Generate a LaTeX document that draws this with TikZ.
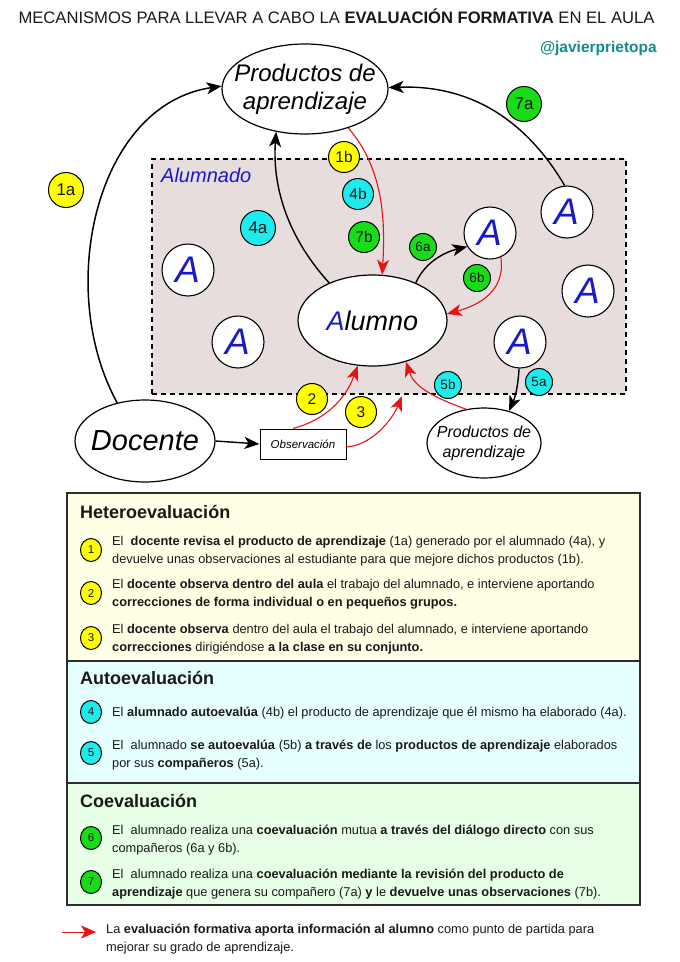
\documentclass[tikz,border=0pt]{standalone}
\usepackage{fontspec}
\setmainfont{Liberation Sans}
\usetikzlibrary{arrows.meta,shapes.geometric}
\definecolor{pinkbg}{RGB}{231,221,221}
\definecolor{yelbox}{RGB}{255,255,230}
\definecolor{cyabox}{RGB}{230,255,255}
\definecolor{grebox}{RGB}{230,255,230}
\definecolor{byellow}{RGB}{255,255,0}
\definecolor{bcyan}{RGB}{30,235,235}
\definecolor{bgreen}{RGB}{25,220,25}
\definecolor{ablue}{RGB}{25,25,200}
\definecolor{handle}{RGB}{20,140,140}
\definecolor{redarr}{RGB}{230,20,20}
\definecolor{txt}{RGB}{25,25,25}
\definecolor{boxline}{RGB}{45,45,45}
\tikzset{
  arr/.style={-{Stealth[length=15pt,width=12pt,inset=4pt]}},
  blackarr/.style={arr, draw=black, line width=1.4pt},
  redarrow/.style={arr, draw=redarr, line width=1.1pt},
  oval/.style={ellipse, draw, line width=1.2pt, fill=white, inner sep=0pt},
  acirc/.style={circle, draw, line width=1.1pt, fill=white, minimum size=52pt, inner sep=0pt,
    font=\fontsize{37}{37}\selectfont\itshape, text=ablue},
  badge/.style={circle, draw, line width=1pt, inner sep=0pt, text=txt},
  bigbadge/.style={badge, minimum size=35pt, font=\fontsize{17}{17}\selectfont},
  midbadge/.style={badge, minimum size=31pt, font=\fontsize{15.5}{15.5}\selectfont},
  smallbadge/.style={badge, minimum size=27pt, font=\fontsize{13.5}{13.5}\selectfont},
  numcirc/.style={ellipse, draw, line width=1pt, inner sep=0pt, minimum width=21pt, minimum height=23pt, font=\fontsize{11.5}{11.5}\selectfont, text=txt},
  bodytxt/.style={anchor=base west, inner sep=0pt, text=txt, font=\fontsize{12.8}{14}\selectfont},
  headtxt/.style={anchor=base west, inner sep=0pt, text=txt, font=\fontsize{18}{20}\selectfont\bfseries},
  evalbox/.style={rectangle, draw=boxline, line width=1.5pt, minimum width=573pt, inner sep=0pt},
}
\begin{document}
\begin{tikzpicture}[x=1pt,y=-1pt]
\useasboundingbox (0,0) rectangle (680,962);
\fill[white] (0,0) rectangle (680,962);

% title
\node[anchor=base, inner sep=0pt, text=txt, font=\fontsize{16.6}{18}\selectfont] (title) at (336.5,23)
  {MECANISMOS PARA LLEVAR A CABO LA \textbf{EVALUACIÓN FORMATIVA} EN EL AULA};
\node[anchor=base east, inner sep=0pt, text=handle, font=\fontsize{15.5}{18}\selectfont\bfseries] (handle) at (657,52) {@javierprietopa};

% alumnado area
\node[rectangle, draw, dashed, dash pattern=on 5pt off 4pt, line width=1.5pt, fill=pinkbg,
  minimum width=474pt, minimum height=235pt] (area) at (389,276.5) {};
\node[anchor=base west, inner sep=0pt, text=ablue, font=\fontsize{20}{20}\selectfont\itshape] (arealabel) at (161,182) {Alumnado};

% ellipses
\node[oval, minimum width=166pt, minimum height=90pt,
  label={[align=center, font=\fontsize{24}{28}\selectfont\itshape]center:Productos de\\aprendizaje}] (prodtop) at (305,89) {};
\node[oval, minimum width=149pt, minimum height=91pt, font=\fontsize{27}{27}\selectfont\itshape] (alumno) at (372.5,320.5) {{\color{ablue}A}lumno};
\node[oval, minimum width=140pt, minimum height=82pt,
  label={[font=\fontsize{29}{29}\selectfont\itshape]center:Docente}] (docente) at (145,441) {};
\node[oval, minimum width=114pt, minimum height=70pt,
  label={[align=center, font=\fontsize{16}{20}\selectfont\itshape]center:Productos de\\aprendizaje}] (prodbot) at (484,443) {};
\node[rectangle, draw, line width=1pt, fill=white, minimum width=86pt, minimum height=30pt,
  font=\fontsize{11.5}{12}\selectfont\itshape] (obs) at (303,444) {Observación};

% A circles
\node[acirc] (a1) at (188,270) {A};
\node[acirc] (a2) at (238,342) {A};
\node[acirc] (a3) at (490,233) {A};
\node[acirc] (a4) at (567,212) {A};
\node[acirc] (a5) at (588,291) {A};
\node[acirc] (a6) at (520,342) {A};

% connectors
\draw[blackarr, line width=1.5pt] (docente.126) .. controls (55,290) and (95,105) .. (prodtop.178);
\draw[blackarr] (alumno.139) .. controls (290,240) and (272,190) .. (prodtop.236);
\draw[redarrow] (prodtop.318) .. controls (385,170) and (385,225) .. (alumno.78);
\draw[blackarr] (a4.95) .. controls (520,110) and (460,85) .. (prodtop.1);
\draw[blackarr] (alumno.41) .. controls (425,262) and (445,252) .. (a3.211);
\draw[redarrow] (a3.294) .. controls (506,290) and (480,305) .. (alumno.5);
\draw[redarrow] ([xshift=-10pt]obs.north) .. controls (325,420) and (345,400) .. (alumno.252);
\coordinate (free3) at (402,396);
\draw[redarrow] ([yshift=-3pt]obs.east) .. controls (372,445) and (392,420) .. (free3);
\draw[redarrow] (prodbot.118) .. controls (430,396) and (414,386) .. (alumno.309);
\draw[blackarr] (a6.268) .. controls (518,385) and (516,395) .. (prodbot.52);
\draw[blackarr] (docente.east) -- (obs.west);

% badges
\node[bigbadge, fill=byellow] (b1a) at (66,190) {1a};
\node[bigbadge, fill=bgreen] (b7a) at (524,104) {7a};
\node[midbadge, fill=byellow] (b1b) at (344,157) {1b};
\node[midbadge, fill=bcyan] (b4b) at (358,194) {4b};
\node[midbadge, fill=bgreen] (b7b) at (364,237) {7b};
\node[bigbadge, fill=bcyan] (b4a) at (258,228) {4a};
\node[smallbadge, fill=bgreen] (b6a) at (423,247) {6a};
\node[smallbadge, fill=bgreen] (b6b) at (477,278) {6b};
\node[smallbadge, fill=bcyan] (b5b) at (448,385) {5b};
\node[smallbadge, fill=bcyan] (b5a) at (539,382) {5a};
\node[midbadge, fill=byellow] (b2) at (312,399) {2};
\node[midbadge, fill=byellow] (b3) at (361,412) {3};

% evaluation boxes
\node[evalbox, fill=yelbox, minimum height=168pt] (hetero) at (353.5,577) {};
\node[evalbox, fill=cyabox, minimum height=122pt] (auto) at (353.5,722) {};
\node[evalbox, fill=grebox, minimum height=122pt] (coev) at (353.5,844) {};

\node[headtxt] (h1) at (80,518) {Heteroevaluación};
\node[numcirc, fill=byellow] (n1) at (91,550) {1};
\node[bodytxt] (t1a) at (112,545) {El\ \ \textbf{docente revisa el producto de aprendizaje} (1a) generado por el alumnado (4a), y};
\node[bodytxt] (t1b) at (112,563) {devuelve unas observaciones al estudiante para que mejore dichos productos (1b).};
\node[numcirc, fill=byellow] (n2) at (91,593) {2};
\node[bodytxt] (t2a) at (112,588) {El \textbf{docente observa dentro del aula} el trabajo del alumnado, e interviene aportando};
\node[bodytxt] (t2b) at (112,606) {\textbf{correcciones de forma individual o en pequeños grupos.}};
\node[numcirc, fill=byellow] (n3) at (91,638) {3};
\node[bodytxt] (t3a) at (112,633) {El \textbf{docente observa} dentro del aula el trabajo del alumnado, e interviene aportando};
\node[bodytxt] (t3b) at (112,651) {\textbf{correcciones} dirigiéndose \textbf{a la clase en su conjunto.}};

\node[headtxt] (h2) at (80,684) {Autoevaluación};
\node[numcirc, fill=bcyan] (n4) at (91,712) {4};
\node[bodytxt] (t4a) at (112,716) {El \textbf{alumnado autoevalúa} (4b) el producto de aprendizaje que él mismo ha elaborado (4a).};
\node[numcirc, fill=bcyan] (n5) at (91,753) {5};
\node[bodytxt] (t5a) at (112,749) {El\ \ alumnado \textbf{se autoevalúa} (5b) \textbf{a través de} los \textbf{productos de aprendizaje} elaborados};
\node[bodytxt] (t5b) at (112,767) {por sus \textbf{compañeros} (5a).};

\node[headtxt] (h3) at (80,807) {Coevaluación};
\node[numcirc, fill=bgreen] (n6) at (91,838) {6};
\node[bodytxt] (t6a) at (112,834) {El\ \ alumnado realiza una \textbf{coevaluación} mutua \textbf{a través del diálogo directo} con sus};
\node[bodytxt] (t6b) at (112,852) {compañeros (6a y 6b).};
\node[numcirc, fill=bgreen] (n7) at (91,882) {7};
\node[bodytxt] (t7a) at (112,878) {El\ \ alumnado realiza una \textbf{coevaluación mediante la revisión del producto de}};
\node[bodytxt] (t7b) at (112,896) {\textbf{aprendizaje} que genera su compañero (7a) \textbf{y} le \textbf{devuelve unas observaciones} (7b).};

% legend
\coordinate (legs) at (62,932);
\coordinate (lege) at (96,932);
\draw[draw=redarr, line width=1pt, -{Stealth[length=15pt,width=13pt,inset=4pt]}] (legs) -- (lege);
\node[bodytxt] (l1) at (106,933) {La \textbf{evaluación formativa aporta información al alumno} como punto de partida para};
\node[bodytxt] (l2) at (106,951) {mejorar su grado de aprendizaje.};
\end{tikzpicture}
\end{document}
